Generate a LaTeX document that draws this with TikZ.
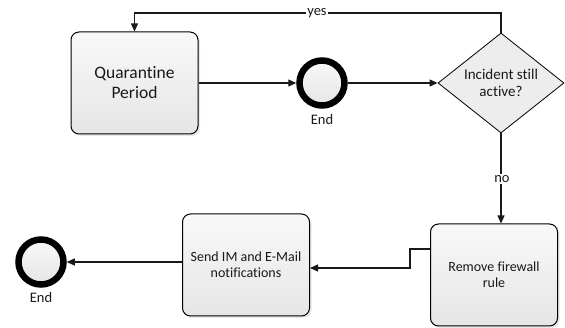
\documentclass[tikz,border=0pt]{standalone}
\usepackage{fontspec}
\setmainfont[Ligatures=NoCommon]{Carlito}
\definecolor{FlowLine}{gray}{0.1}
\definecolor{BoxTop}{gray}{0.975}
\definecolor{BoxBottom}{gray}{0.9}
\definecolor{TextGrey}{gray}{0.1}
\usetikzlibrary{shapes.geometric,arrows.meta,shadows,positioning,calc}

\begin{document}
\begin{tikzpicture}[x=1pt,y=-1pt,
						flow/.style={draw=FlowLine,line width=1.1pt,-{Triangle[length=8pt,width=7pt]}},
						task/.style={rectangle,rounded corners=8pt,draw=black,line width=1pt,
							top color=BoxTop,bottom color=BoxBottom,
							drop shadow={opacity=0.18,shadow xshift=2pt,shadow yshift=-2pt},
							minimum width=127pt,minimum height=102pt,align=center,
							text=TextGrey,font=\fontsize{14}{16}\selectfont},
						endevent/.style={circle,draw=black,line width=6.5pt,
							top color=BoxTop,bottom color=BoxBottom,
							minimum size=45pt,inner sep=0pt},
						decision/.style={diamond,draw=black,line width=0.8pt,fill=BoxBottom!60!BoxTop,
							minimum width=126pt,minimum height=100pt,inner sep=0pt,aspect=1.26,
							align=center,text=TextGrey,font=\fontsize{15}{17}\selectfont},
						lbl/.style={text=TextGrey,font=\fontsize{14.5}{16}\selectfont,inner sep=1pt},
						onlbl/.style={lbl,fill=white}
					]
					\useasboundingbox (0,0) rectangle (565,328);

					\node[task,font=\fontsize{17.5}{20}\selectfont] (Q) at (134.5,83) {Quarantine\\Period};
					\node[endevent] (E1) at (322,83) {};
					\node[lbl] (E1l) at (322,120) {End};
					\node[decision] (D) at (501,83) {Incident still\\active?};

					\node[task] (R) at (494,275) {Remove firewall\\rule};
					\node[task] (S) at (246,265) {Send IM and E-Mail\\notifications};
					\node[endevent] (E2) at (41,262) {};
					\node[lbl] (E2l) at (41,298) {End};

					\coordinate (top) at (0,13);
					%\draw[flow] (D.north) |- (Q.north);
					\draw[flow] (D.north) -- (D.north |- top) -| (Q.north);
					\node[onlbl] (yes) at (317,13) {yes};

					\draw (Q) edge[flow] (E1);
					\draw (E1) edge[flow] (D);
					\draw[flow] (D.south) -- (D.south |- R.north);
					\node[onlbl] (no) at (502,179) {no};

					\draw[flow] ([yshift=26pt]R.west) -- ++(-20,0) |- ([yshift=-3pt]S.east);
					\draw[flow] ([yshift=3pt]S.west) -- (E2);
				\end{tikzpicture}
\end{document}
